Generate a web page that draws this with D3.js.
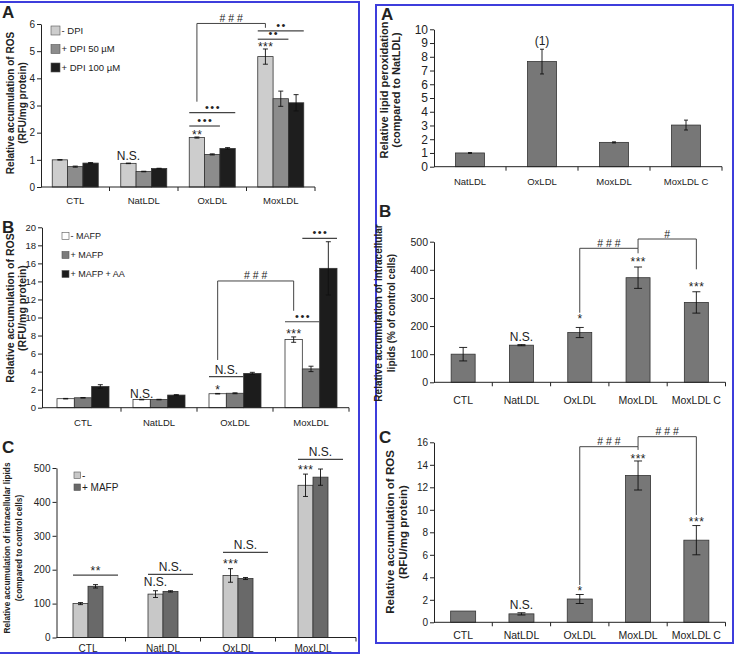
<!DOCTYPE html>
<html>
<head>
<meta charset="utf-8">
<script src="https://cdn.jsdelivr.net/npm/d3@7"></script>
<style>
  body { margin: 0; background: #fff; }
  text { font-family: "Liberation Sans", Arial, sans-serif; fill: #222; }
</style>
</head>
<body>
<div id="wrapper"></div>
<script>
// categories
const leftCats = ["CTL", "NatLDL", "OxLDL", "MoxLDL"];
const peroxCats = ["NatLDL", "OxLDL", "MoxLDL", "MoxLDL C"];
const rightCats = ["CTL", "NatLDL", "OxLDL", "MoxLDL", "MoxLDL C"];

// left A - ROS with DPI
const dpiSeries = ["- DPI", "+ DPI 50 µM", "+ DPI 100 µM"];
const dpiValues = [[1.0, 0.87, 1.82, 4.8], [0.75, 0.57, 1.2, 3.25], [0.88, 0.68, 1.42, 3.1]];
const dpiErrors = [[0.01, 0.01, 0.02, 0.28], [0.02, 0.01, 0.02, 0.28], [0.02, 0.01, 0.03, 0.3]];
const dpiTicks = [0, 1, 2, 3, 4, 5, 6];

// left B - ROS with MAFP
const mafpSeries = ["- MAFP", "+ MAFP", "+ MAFP + AA"];
const mafpValues = [[1.0, 0.9, 1.55, 7.55], [1.1, 0.9, 1.6, 4.3], [2.35, 1.4, 3.8, 15.45]];
const mafpErrors = [[0.03, 0.03, 0.03, 0.3], [0.03, 0.03, 0.05, 0.3], [0.2, 0.05, 0.12, 2.95]];
const mafpTicks = [0, 2, 4, 6, 8, 10, 12, 14, 16, 18, 20];

// left C - intracellular lipids with MAFP
const lipidSeries = ["-", "+ MAFP"];
const lipidValues = [[100, 128, 183, 449], [151, 136, 174, 473]];
const lipidErrors = [[3, 10, 20, 33], [5, 2, 3, 24]];
const lipidTicks = [0, 100, 200, 300, 400, 500];

// right A - lipid peroxidation
const peroxValues = [1.0, 7.65, 1.77, 3.03];
const peroxErrors = [0.03, 0.9, 0.04, 0.36];
const peroxTicks = [0, 1, 2, 3, 4, 5, 6, 7, 8, 9, 10];

// right B - intracellular lipids
const intraValues = [100, 132, 177, 372, 284];
const intraErrors = [24, 2, 18, 38, 38];
const intraTicks = [0, 100, 200, 300, 400, 500];

// right C - ROS
const rosValues = [1.0, 0.75, 2.07, 13.05, 7.3];
const rosErrors = [0, 0.1, 0.4, 1.29, 1.3];
const rosTicks = [0, 2, 4, 6, 8, 10, 12, 14, 16];

// significance marks (value = where the text sits, in data units)
const dpiMarks = [
  {cat: "NatLDL", s: 0, v: 0.99, text: "N.S.", kind: "ns"},
  {cat: "OxLDL", s: 0, v: 1.77, text: "**", kind: "star"},
  {cat: "MoxLDL", s: 0, v: 5.0, text: "***", kind: "star"}
];
const dpiLines = [
  {cat: "OxLDL", from: 0, to: 1, v: 2.245, text: "•••", kind: "dot"},
  {cat: "OxLDL", from: 0, to: 2, v: 2.735, text: "•••", kind: "dot"},
  {cat: "MoxLDL", from: 0, to: 1, v: 5.44, text: "••", kind: "dot"},
  {cat: "MoxLDL", from: 0, to: 2, v: 5.75, text: "••", kind: "dot"}
];
const dpiBrackets = [
  {a: "OxLDL", b: "MoxLDL", va: 3.14, top: 6.02, vb: 5.86, text: "# # #"}
];

const mafpMarks = [
  {cat: "NatLDL", s: 0, v: 1.13, text: "N.S.", kind: "ns"},
  {cat: "OxLDL", s: 0, v: 1.55, text: "*", kind: "star"},
  {cat: "MoxLDL", s: 0, v: 7.76, text: "***", kind: "star"}
];
const mafpLines = [
  {cat: "OxLDL", from: 0, to: 1, v: 3.44, text: "N.S.", kind: "ns"},
  {cat: "MoxLDL", from: 0, to: 1, v: 9.53, text: "•••", kind: "dot"},
  {cat: "MoxLDL", from: 1, to: 2, v: 18.78, text: "•••", kind: "dot"}
];
const mafpBrackets = [
  {a: "OxLDL", b: "MoxLDL", va: 5.29, top: 14.05, vb: 10.75, text: "# # #"}
];

const lipidMarks = [
  {cat: "NatLDL", s: 0, v: 152, text: "N.S.", kind: "ns"},
  {cat: "OxLDL", s: 0, v: 206, text: "***", kind: "star"},
  {cat: "MoxLDL", s: 0, v: 483, text: "***", kind: "star"}
];
const lipidLines = [
  {cat: "CTL", from: 0, to: 1, v: 184, text: "**", kind: "star"},
  {cat: "NatLDL", from: 0, to: 1, v: 186.4, text: "N.S.", kind: "ns"},
  {cat: "OxLDL", from: 0, to: 1, v: 251, text: "N.S.", kind: "ns"},
  {cat: "MoxLDL", from: 0, to: 1, v: 525.7, text: "N.S.", kind: "ns"}
];

const peroxMarks = [
  {cat: "OxLDL", s: 0, v: 8.88, text: "(1)", kind: "ns"}
];

const intraMarks = [
  {cat: "NatLDL", s: 0, v: 146.9, text: "N.S.", kind: "ns"},
  {cat: "OxLDL", s: 0, v: 211, text: "*", kind: "star"},
  {cat: "MoxLDL", s: 0, v: 414.7, text: "***", kind: "star"},
  {cat: "MoxLDL C", s: 0, v: 325.7, text: "***", kind: "star"}
];
const intraBrackets = [
  {a: "OxLDL", b: "MoxLDL", va: 247.5, top: 476.5, vb: 458.7, text: "# # #"},
  {a: "MoxLDL", b: "MoxLDL C", va: 476.5, top: 509.6, vb: 401.8, text: "#"}
];

const rosMarks = [
  {cat: "NatLDL", s: 0, v: 1.16, text: "N.S.", kind: "ns"},
  {cat: "OxLDL", s: 0, v: 2.39, text: "*", kind: "star"},
  {cat: "MoxLDL", s: 0, v: 14.16, text: "***", kind: "star"},
  {cat: "MoxLDL C", s: 0, v: 8.52, text: "***", kind: "star"}
];
const rosBrackets = [
  {a: "OxLDL", b: "MoxLDL", va: 3.32, top: 15.61, vb: 15.32, text: "# # #"},
  {a: "MoxLDL", b: "MoxLDL C", va: 15.61, top: 16.5, vb: 9.54, text: "# # #"}
];

const svg = d3.select("#wrapper").append("svg")
  .attr("width", 735)
  .attr("height", 657);
svg.append("rect").attr("width", 735).attr("height", 657).attr("fill", "#fff");

// blue frames
svg.append("rect").attr("x", -2).attr("y", 2).attr("width", 361).attr("height", 651)
  .attr("fill", "none").attr("stroke", "#3d3ddc").attr("stroke-width", 2);
svg.append("rect").attr("x", 376).attr("y", 5).attr("width", 357).attr("height", 638)
  .attr("fill", "none").attr("stroke", "#3d3ddc").attr("stroke-width", 2);

const kindStyle = {
  ns: {size: 12, spacing: 0, gap: 3},
  star: {size: 12, spacing: 0.5, gap: 0},
  dot: {size: 11, spacing: 1.5, gap: 2},
  hash: {size: 10.5, spacing: 0, gap: 1.5}
};

function addText(g, x, y, text, kind) {
  const st = kindStyle[kind];
  g.append("text")
    .attr("x", x + st.spacing / 2)
    .attr("y", y)
    .attr("text-anchor", "middle")
    .attr("font-size", st.size)
    .attr("letter-spacing", st.spacing)
    .text(text);
}

function drawPanel(p) {
  const g = svg.append("g");
  const y = d3.scaleLinear().domain([0, p.max]).range([p.y0, p.yTop]);
  const x = d3.scaleBand().domain(p.cats).range(p.xRange);
  const bw = x.bandwidth();
  const sub = d3.scaleBand().domain(d3.range(p.values.length))
    .range([(bw - p.groupW) / 2, (bw + p.groupW) / 2]);
  const barX = (c, s) => x(c) + sub(s);
  const barMid = (c, s) => barX(c, s) + sub.bandwidth() / 2;
  const cap = p.cap;

  // bars and error bars
  p.values.forEach((row, s) => {
    g.selectAll(null).data(p.cats).enter().append("rect")
      .attr("x", c => barX(c, s))
      .attr("width", sub.bandwidth())
      .attr("y", (c, i) => y(row[i]))
      .attr("height", (c, i) => p.y0 - y(row[i]))
      .attr("fill", p.colors[s])
      .attr("stroke", "#333")
      .attr("stroke-width", 0.8);

    const err = g.selectAll(null)
      .data(p.cats.filter((c, i) => p.errors[s][i] > 0))
      .enter().append("g")
      .attr("stroke", "#111").attr("stroke-width", 0.9);
    const ix = c => p.cats.indexOf(c);
    err.append("line")
      .attr("x1", c => barMid(c, s)).attr("x2", c => barMid(c, s))
      .attr("y1", c => y(row[ix(c)] - p.errors[s][ix(c)]))
      .attr("y2", c => y(row[ix(c)] + p.errors[s][ix(c)]));
    [-1, 1].forEach(sign => {
      err.append("line")
        .attr("x1", c => barMid(c, s) - cap).attr("x2", c => barMid(c, s) + cap)
        .attr("y1", c => y(row[ix(c)] + sign * p.errors[s][ix(c)]))
        .attr("y2", c => y(row[ix(c)] + sign * p.errors[s][ix(c)]));
    });
  });

  // y axis
  const yAxis = g.append("g")
    .attr("transform", `translate(${p.axisX},0)`)
    .call(d3.axisLeft(y).tickValues(p.ticks).tickFormat(d3.format("d"))
      .tickSize(4).tickSizeOuter(0).tickPadding(2));
  yAxis.attr("font-family", null).attr("font-size", null);
  yAxis.selectAll("text").attr("font-size", p.tickFont).style("fill", "#222");
  yAxis.selectAll("line, path").attr("stroke", "#222");

  // x axis with ticks on category boundaries
  g.append("line")
    .attr("x1", p.axisX).attr("x2", p.xEnd)
    .attr("y1", p.y0).attr("y2", p.y0)
    .attr("stroke", "#222");
  const bounds = p.cats.slice(1).map(c => x(c)).concat([p.xEnd]);
  g.selectAll(null).data(bounds).enter().append("line")
    .attr("x1", d => d).attr("x2", d => d)
    .attr("y1", p.y0).attr("y2", p.y0 + 4)
    .attr("stroke", "#222");

  g.selectAll(null).data(p.cats).enter().append("text")
    .attr("x", c => x(c) + bw / 2)
    .attr("y", p.labelY)
    .attr("text-anchor", "middle")
    .attr("font-size", p.catFont)
    .text(c => c);

  // y label
  const yl = g.append("text")
    .attr("transform", `translate(0,${p.ylabelCY}) rotate(-90)`)
    .attr("text-anchor", "middle")
    .attr("font-weight", "bold")
    .attr("font-size", p.ylabelFont);
  p.ylabel.forEach((t, i) => {
    yl.append("tspan").attr("x", 0).attr("y", p.ylabelX[i]).text(t);
  });

  // panel letter
  g.append("text")
    .attr("x", p.letterPos[0]).attr("y", p.letterPos[1])
    .attr("font-size", 17).attr("font-weight", "bold")
    .text(p.letter);

  // legend
  if (p.series) {
    p.series.forEach((name, s) => {
      const ly = p.legend.y + s * p.legend.step;
      g.append("rect")
        .attr("x", p.legend.x).attr("y", ly)
        .attr("width", p.legend.size).attr("height", p.legend.size)
        .attr("fill", p.colors[s]).attr("stroke", "#555").attr("stroke-width", 0.6);
      g.append("text")
        .attr("x", p.legend.x + p.legend.size + 1.5)
        .attr("y", ly + p.legend.size / 2 + p.legend.font * 0.36)
        .attr("font-size", p.legend.font)
        .text(name);
    });
  }

  // marks above bars
  (p.marks || []).forEach(m => addText(g, barMid(m.cat, m.s), y(m.v), m.text, m.kind));

  // comparison lines
  (p.lines || []).forEach(l => {
    const x1 = barX(l.cat, l.from);
    const x2 = barX(l.cat, l.to) + sub.bandwidth() + (p.lineExt || 0);
    g.append("line")
      .attr("x1", x1).attr("x2", x2)
      .attr("y1", y(l.v)).attr("y2", y(l.v))
      .attr("stroke", "#444").attr("stroke-width", 1.2);
    addText(g, (x1 + x2) / 2, y(l.v) - kindStyle[l.kind].gap, l.text, l.kind);
  });

  // brackets between groups
  (p.brackets || []).forEach(b => {
    const xa = barMid(b.a, 0), xb = barMid(b.b, 0);
    g.append("path")
      .attr("d", `M${xa},${y(b.va)}V${y(b.top)}H${xb}V${y(b.vb)}`)
      .attr("fill", "none").attr("stroke", "#444").attr("stroke-width", 1);
    addText(g, (xa + xb) / 2, y(b.top) - kindStyle.hash.gap, b.text, "hash");
  });
}

drawPanel({
  letter: "A", letterPos: [2, 18],
  cats: leftCats, series: dpiSeries, values: dpiValues, errors: dpiErrors,
  colors: ["#cdcdcd", "#8c8c8c", "#1e1e1e"],
  max: 6, y0: 187, yTop: 24, ticks: dpiTicks,
  axisX: 41, xRange: [41, 315], xEnd: 315, groupW: 46, cap: 2.5,
  labelY: 204, tickFont: 10, catFont: 9.5,
  ylabel: ["Relative accumulation of ROS", "(RFU/mg protein)"],
  ylabelX: [14, 25.5], ylabelCY: 103, ylabelFont: 10,
  legend: {x: 51, y: 26, step: 18.5, size: 9, font: 9.5},
  marks: dpiMarks, lines: dpiLines, brackets: dpiBrackets
});

drawPanel({
  letter: "B", letterPos: [2, 233],
  cats: leftCats, series: mafpSeries, values: mafpValues, errors: mafpErrors,
  colors: ["#ffffff", "#7b7b7b", "#1c1c1c"],
  max: 20, y0: 407.7, yTop: 227.3, ticks: mafpTicks,
  axisX: 42, xRange: [45, 349], xEnd: 349, groupW: 52, cap: 2.5,
  labelY: 425.5, tickFont: 9.5, catFont: 9.5,
  ylabel: ["Relative accumulation of ROS", "(RFU/mg protein)"],
  ylabelX: [14, 26], ylabelCY: 308, ylabelFont: 10.5,
  legend: {x: 62, y: 232.5, step: 19, size: 7, font: 9},
  marks: mafpMarks, lines: mafpLines, brackets: mafpBrackets
});

drawPanel({
  letter: "C", letterPos: [2, 453],
  cats: leftCats, series: lipidSeries, values: lipidValues, errors: lipidErrors,
  colors: ["#c8c8c8", "#696969"],
  max: 500, y0: 637.5, yTop: 468, ticks: lipidTicks,
  axisX: 56.5, xRange: [50.5, 350.5], xEnd: 356, groupW: 30, cap: 2.5,
  labelY: 652, tickFont: 10, catFont: 10,
  ylabel: ["Relative accumulation of intracellular lipids", "(compared to control cells)"],
  ylabelX: [10, 21.5], ylabelCY: 548, ylabelFont: 8.3,
  legend: {x: 74, y: 472, step: 12, size: 6.5, font: 10},
  marks: lipidMarks, lines: lipidLines, lineExt: 15
});

drawPanel({
  letter: "A", letterPos: [381, 20],
  cats: peroxCats, values: [peroxValues], errors: [peroxErrors],
  colors: ["#777777"],
  max: 10, y0: 166.7, yTop: 29.3, ticks: peroxTicks,
  axisX: 434, xRange: [434, 722], xEnd: 722, groupW: 29, cap: 2,
  labelY: 185, tickFont: 12, catFont: 9.5,
  ylabel: ["Relative lipid peroxidation", "(compared to NatLDL)"],
  ylabelX: [387.5, 400], ylabelCY: 90, ylabelFont: 11,
  marks: peroxMarks
});

drawPanel({
  letter: "B", letterPos: [379, 217],
  cats: rightCats, values: [intraValues], errors: [intraErrors],
  colors: ["#777777"],
  max: 500, y0: 382.3, yTop: 241.7, ticks: intraTicks,
  axisX: 434, xRange: [434, 725.5], xEnd: 725.5, groupW: 24, cap: 4,
  labelY: 404, tickFont: 10.5, catFont: 10.5,
  ylabel: ["Relative accumulation of intracellular", "lipids (% of control cells)"],
  ylabelX: [382, 394.5], ylabelCY: 313, ylabelFont: 10,
  marks: intraMarks, brackets: intraBrackets
});

drawPanel({
  letter: "C", letterPos: [379, 443],
  cats: rightCats, values: [rosValues], errors: [rosErrors],
  colors: ["#777777"],
  max: 16, y0: 622.3, yTop: 442.3, ticks: rosTicks,
  axisX: 434, xRange: [434, 725.5], xEnd: 725.5, groupW: 25, cap: 4,
  labelY: 639, tickFont: 10, catFont: 10.5,
  ylabel: ["Relative accumulation of ROS", "(RFU/mg protein)"],
  ylabelX: [394, 407], ylabelCY: 532, ylabelFont: 11.5,
  marks: rosMarks, brackets: rosBrackets
});
</script>
</body>
</html>
